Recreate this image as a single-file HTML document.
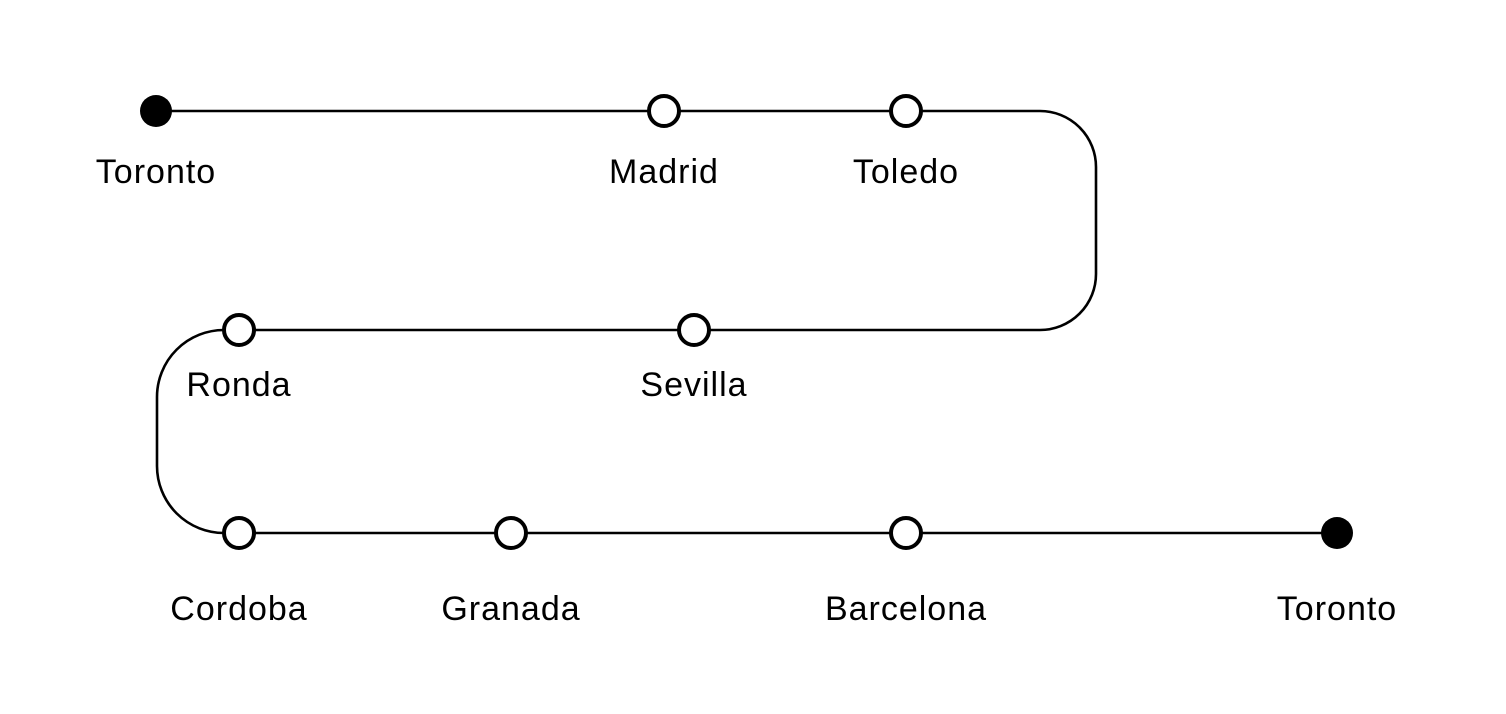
<!DOCTYPE html>
<html><head><meta charset="utf-8"><style>
html,body{margin:0;padding:0;background:#fff;}
svg{display:block}
text{font-family:"Liberation Sans",sans-serif;font-size:34px;letter-spacing:1px;fill:#000;text-anchor:middle}
</style></head><body>
<svg width="1506" height="714" viewBox="0 0 1506 714">
<path d="M156 111 H1040 A56 56 0 0 1 1096 167 V274 A56 56 0 0 1 1040 330 H224 A67 67 0 0 0 157 397 V466 A67 67 0 0 0 224 533 H1337" fill="none" stroke="#000" stroke-width="2.6"/>
<circle cx="156" cy="111" r="16" fill="#000"/>
<circle cx="1337" cy="533" r="16" fill="#000"/>
<g fill="#fff" stroke="#000" stroke-width="4">
<circle cx="664" cy="111" r="15"/>
<circle cx="906" cy="111" r="15"/>
<circle cx="239" cy="330" r="15"/>
<circle cx="694" cy="330" r="15"/>
<circle cx="239" cy="533" r="15"/>
<circle cx="511" cy="533" r="15"/>
<circle cx="906" cy="533" r="15"/>
</g>
<text x="156" y="183">Toronto</text>
<text x="664" y="183">Madrid</text>
<text x="906" y="183">Toledo</text>
<text x="239" y="396">Ronda</text>
<text x="694" y="396">Sevilla</text>
<text x="239" y="620">Cordoba</text>
<text x="511" y="620">Granada</text>
<text x="906" y="620">Barcelona</text>
<text x="1337" y="620">Toronto</text>
</svg>
</body></html>
